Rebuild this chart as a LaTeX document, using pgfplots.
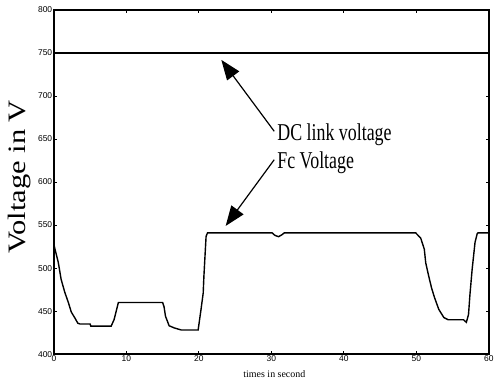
\documentclass[border=0pt]{standalone}
\usepackage{fontspec}
\setmainfont{Liberation Serif}
\newfontfamily\ticksans{Liberation Sans}
\usepackage{pgfplots}
\pgfplotsset{compat=1.18}
\usetikzlibrary{arrows.meta}

% fuel cell voltage over the drive cycle (time in s, voltage in V)
\pgfplotstableread{
t v
0 528
0.15 522
0.6 507
1.0 487
1.5 472
2.0 460
2.4 449
2.9 442
3.3 436
3.6 435
5.0 435
5.1 432.5
7.9 432.5
8.3 440
8.6 450
8.9 460
15.0 460
15.2 455
15.4 444
15.9 433
16.6 430.5
17.6 428
19.9 428
20.1 440
20.3 452
20.6 471
20.7 491
20.9 522
21.0 537
21.2 541
30.1 541
30.5 538
31.0 536.5
31.5 539
31.8 541
49.9 541
50.6 535
51.1 522
51.3 506
51.7 491
52.1 477
52.5 466
53.1 452
53.8 442.5
54.4 440
56.5 440
56.9 437
57.2 446
57.4 469.5
57.7 498.5
58.1 530
58.4 540
58.5 541
60 541
}\fcdata

% DC link voltage (constant)
\pgfplotstableread{
t v
0 750
60 750
}\dcdata

\begin{document}
\begin{tikzpicture}
\begin{axis}[
  at={(0,0)}, anchor=south west,
  scale only axis,
  width=436bp, height=345bp,
  xmin=0, xmax=60, ymin=400, ymax=800,
  xtick={0,10,...,60},
  ytick={400,450,...,800},
  tick align=inside,
  major tick length=3bp,
  axis line style={line width=1.5bp},
  every tick/.style={black, line width=1bp},
  tick label style={font=\fontsize{8.5}{9}\selectfont\ticksans, inner sep=1.5pt},
  /pgf/number format/assume math mode=true,
  xlabel={times in second},
  ylabel={\scalebox{1.28}[1.05]{\fontsize{24}{24}\selectfont Voltage in V}},
  every axis x label/.style={at={(axis description cs:0.507,-0.058)}, anchor=center, font=\fontsize{10}{10}\selectfont},
  every axis y label/.style={at={(axis description cs:-0.08,0.515)}, anchor=center, rotate=90},
  clip=false,
]
\addplot[black, line width=1.4bp] table[x=t, y=v] {\dcdata};
\addplot[black, line width=1.4bp] table[x=t, y=v] {\fcdata};

\draw[line width=1.2bp, -{Triangle[length=20bp, width=15bp]}] (axis cs:30.4,659) -- (axis cs:23.1,742);
\draw[line width=1.2bp, -{Triangle[length=20bp, width=15bp]}] (axis cs:30.4,626) -- (axis cs:23.7,549);
\node[anchor=west, inner sep=0pt] at (axis cs:30.8,655) {\scalebox{1}[1.35]{\fontsize{18}{18}\selectfont DC link voltage}};
\node[anchor=west, inner sep=0pt] at (axis cs:30.8,622) {\scalebox{1}[1.35]{\fontsize{18}{18}\selectfont Fc Voltage}};
\end{axis}
\useasboundingbox (-54bp,-28bp) rectangle (441bp,355bp);
\end{tikzpicture}
\end{document}
